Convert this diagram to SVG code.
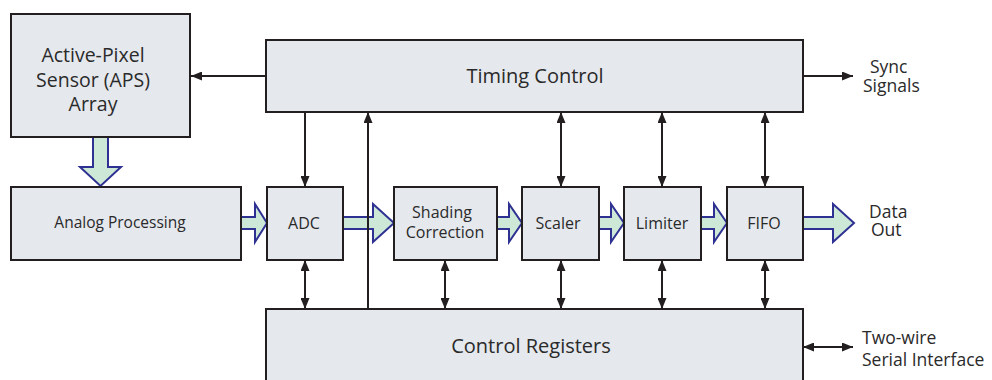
<svg xmlns="http://www.w3.org/2000/svg" width="992" height="380" viewBox="0 0 992 380">
<style>
.box{fill:#e5e8ed;stroke:#231f20;stroke-width:2}
.t{font-family:"Open Sans","Noto Sans","Liberation Sans",sans-serif;fill:#2a2a2a;text-anchor:middle}
.s{font-family:"Open Sans","Noto Sans","Liberation Sans",sans-serif;fill:#2a2a2a;font-size:17.5px}
.ln{stroke:#231f20;stroke-width:2;fill:none}
.fat{fill:#cde8d6;stroke:#2e3192;stroke-width:2;stroke-linejoin:miter}
</style>
<defs>
<marker id="ah" viewBox="0 0 11 9" refX="11" refY="4.5" markerWidth="11" markerHeight="9" markerUnits="userSpaceOnUse" orient="auto-start-reverse">
<path d="M0,0 L11,4.5 L0,9 z" fill="#231f20"/>
</marker>
</defs>
<rect width="992" height="380" fill="#ffffff"/>

<g id="connectors">
<path class="fat" d="M93,137 V167 H80 L100.5,186 L121,167 H108 V137"/>
<path class="fat" d="M241,217 H255 V204 L267,223 L255,242 V229 H241"/>
<path class="fat" d="M343,217 H373 V204 L394,223 L373,242 V229 H343"/>
<path class="fat" d="M497,217 H509 V204 L522,223 L509,242 V229 H497"/>
<path class="fat" d="M599,217 H611 V204 L624,223 L611,242 V229 H599"/>
<path class="fat" d="M701,217 H714 V204 L727,223 L714,242 V229 H701"/>
<path class="fat" d="M803,217 H833 V204 L854,223 L833,242 V229 H803"/>

<line class="ln" x1="266" y1="76" x2="191" y2="76" marker-end="url(#ah)"/>
<line class="ln" x1="803" y1="76" x2="853" y2="76" marker-end="url(#ah)"/>
<line class="ln" x1="305" y1="112" x2="305" y2="187" marker-end="url(#ah)"/>
<line class="ln" x1="368" y1="309" x2="368" y2="112" marker-end="url(#ah)"/>
<line class="ln" x1="561" y1="112" x2="561" y2="187" marker-start="url(#ah)" marker-end="url(#ah)"/>
<line class="ln" x1="662" y1="112" x2="662" y2="187" marker-start="url(#ah)" marker-end="url(#ah)"/>
<line class="ln" x1="765" y1="112" x2="765" y2="187" marker-start="url(#ah)" marker-end="url(#ah)"/>
<line class="ln" x1="305" y1="260" x2="305" y2="309" marker-start="url(#ah)" marker-end="url(#ah)"/>
<line class="ln" x1="445" y1="260" x2="445" y2="309" marker-start="url(#ah)" marker-end="url(#ah)"/>
<line class="ln" x1="561" y1="260" x2="561" y2="309" marker-start="url(#ah)" marker-end="url(#ah)"/>
<line class="ln" x1="662" y1="260" x2="662" y2="309" marker-start="url(#ah)" marker-end="url(#ah)"/>
<line class="ln" x1="765" y1="260" x2="765" y2="309" marker-start="url(#ah)" marker-end="url(#ah)"/>
<line class="ln" x1="803" y1="347" x2="853" y2="347" marker-start="url(#ah)" marker-end="url(#ah)"/>
</g>

<g id="aps">
<rect class="box" x="11" y="14" width="179" height="123"/>
<text class="t" font-size="19.5" x="93" y="62">Active-Pixel</text>
<text class="t" font-size="19.5" x="93" y="87">Sensor (APS)</text>
<text class="t" font-size="19.5" x="93" y="111">Array</text>
</g>
<g id="timing">
<rect class="box" x="266" y="40" width="537" height="72"/>
<text class="t" font-size="20" x="535" y="83">Timing Control</text>
</g>
<g id="analog">
<rect class="box" x="11" y="187" width="230" height="73"/>
<text class="t" font-size="15.5" x="120" y="228">Analog Processing</text>
</g>
<g id="adc">
<rect class="box" x="267" y="187" width="76" height="73"/>
<text class="t" font-size="16" x="304" y="229">ADC</text>
</g>
<g id="shading">
<rect class="box" x="394" y="187" width="103" height="73"/>
<text class="t" font-size="16" x="442" y="218">Shading</text>
<text class="t" font-size="16" x="445" y="238">Correction</text>
</g>
<g id="scaler">
<rect class="box" x="522" y="187" width="77" height="73"/>
<text class="t" font-size="16" x="558" y="229">Scaler</text>
</g>
<g id="limiter">
<rect class="box" x="624" y="187" width="77" height="73"/>
<text class="t" font-size="16" x="662" y="229">Limiter</text>
</g>
<g id="fifo">
<rect class="box" x="727" y="187" width="76" height="73"/>
<text class="t" font-size="16" x="764" y="229">FIFO</text>
</g>
<g id="control">
<rect class="box" x="266" y="309" width="537" height="82"/>
<text class="t" font-size="20" x="531" y="353">Control Registers</text>
</g>
<g id="labels">
<text class="s" x="870" y="73">Sync</text>
<text class="s" x="863" y="92">Signals</text>
<text class="s" x="869" y="218">Data</text>
<text class="s" x="871" y="236">Out</text>
<text class="s" x="862" y="344">Two-wire</text>
<text class="s" x="862" y="366">Serial Interface</text>
</g>
</svg>
